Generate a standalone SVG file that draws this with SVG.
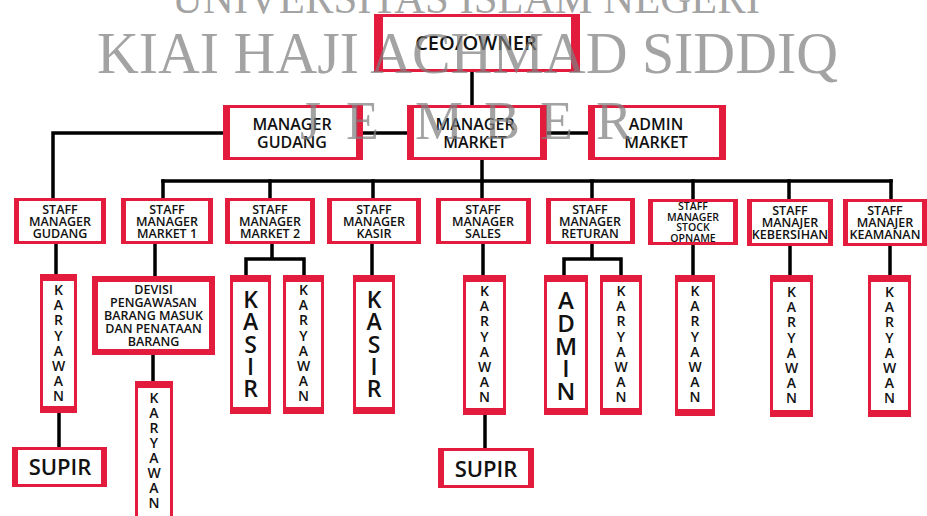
<svg xmlns="http://www.w3.org/2000/svg" width="927" height="516" viewBox="0 0 927 516">
<defs>
<style>
.box{fill:#fff;stroke:#e31b3d;stroke-width:3}
.box6{fill:#fff;stroke:#e31b3d;stroke-width:6}
.bar{fill:#e31b3d}
.ln{fill:none;stroke:#000;stroke-width:3.5;stroke-linecap:square}
.t{font-family:"Open Sans","Liberation Sans",sans-serif;font-weight:600;fill:#111;text-anchor:middle}
.s{font-size:12.5px}
.m{font-size:16px}
.k{font-size:14px}
.big{font-size:23px}
.wm{font-family:"Liberation Serif","Times New Roman",serif;fill:#7f7f7f;fill-opacity:.72}
</style>
</defs>
<rect width="927" height="516" fill="#fff"/>
<g id="connectors" class="ln">
<path d="M472,72 V105"/>
<path d="M363,133 H407"/>
<path d="M547,133 H588"/>
<path d="M223,133 H53 V198"/>
<path d="M482,160 V181"/>
<path d="M163,181 H891"/>
<path d="M163,181 V198 M270,181 V198 M373,181 V198 M482,181 V198 M592,181 V198 M693,181 V199 M789,181 V199 M891,181 V199"/>
<path d="M56,244 V274"/>
<path d="M155,243 V276"/>
<path d="M272,244 V259 M246,259 H304 M246,259 V275 M304,259 V275"/>
<path d="M372,244 V275"/>
<path d="M483,244 V275"/>
<path d="M592,244 V259 M564,259 H621 M564,259 V275 M621,259 V275"/>
<path d="M693,245 V275"/>
<path d="M790,246 V275"/>
<path d="M890,246 V275"/>
<path d="M59,413 V447"/>
<path d="M153,355 V381"/>
<path d="M485,415 V448"/>
</g>

<g id="ceo"><rect class="box" x="375.5" y="15.5" width="203" height="55"/><rect class="bar" x="374" y="14" width="9" height="58"/><rect class="bar" x="571" y="14" width="9" height="58"/>
<text class="t" x="476" y="50" font-size="20">CEO/OWNER</text></g>

<g id="manager-gudang"><rect class="box" x="224.5" y="106.5" width="137" height="52"/><rect class="bar" x="223" y="105" width="7" height="55"/><rect class="bar" x="356" y="105" width="7" height="55"/>
<text class="t m" x="292" y="130">MANAGER</text><text class="t m" x="292" y="148">GUDANG</text></g>

<g id="manager-market"><rect class="box" x="408.5" y="106.5" width="137" height="52"/><rect class="bar" x="407" y="105" width="7" height="55"/><rect class="bar" x="540" y="105" width="7" height="55"/>
<text class="t m" x="475" y="130">MANAGER</text><text class="t m" x="475" y="148">MARKET</text></g>

<g id="admin-market"><rect class="box" x="589.5" y="106.5" width="135" height="52"/><rect class="bar" x="588" y="105" width="7" height="55"/><rect class="bar" x="719" y="105" width="7" height="55"/>
<text class="t m" x="656" y="130">ADMIN</text><text class="t m" x="656" y="148">MARKET</text></g>

<g id="staff-gudang"><rect class="box" x="15.5" y="199.5" width="89" height="43"/><rect class="bar" x="14" y="198" width="5" height="46"/><rect class="bar" x="101" y="198" width="5" height="46"/>
<text class="t s" x="60" y="214">STAFF</text><text class="t s" x="60" y="226">MANAGER</text><text class="t s" x="60" y="238">GUDANG</text></g>

<g id="staff-market1"><rect class="box" x="122.5" y="199.5" width="89" height="43"/><rect class="bar" x="121" y="198" width="5" height="46"/><rect class="bar" x="208" y="198" width="5" height="46"/>
<text class="t s" x="167" y="214">STAFF</text><text class="t s" x="167" y="226">MANAGER</text><text class="t s" x="167" y="238">MARKET 1</text></g>

<g id="staff-market2"><rect class="box" x="226.5" y="199.5" width="87" height="43"/><rect class="bar" x="225" y="198" width="5" height="46"/><rect class="bar" x="310" y="198" width="5" height="46"/>
<text class="t s" x="270" y="214">STAFF</text><text class="t s" x="270" y="226">MANAGER</text><text class="t s" x="270" y="238">MARKET 2</text></g>

<g id="staff-kasir"><rect class="box" x="328.5" y="199.5" width="91" height="43"/><rect class="bar" x="327" y="198" width="5" height="46"/><rect class="bar" x="416" y="198" width="5" height="46"/>
<text class="t s" x="374" y="214">STAFF</text><text class="t s" x="374" y="226">MANAGER</text><text class="t s" x="374" y="238">KASIR</text></g>

<g id="staff-sales"><rect class="box" x="437.5" y="199.5" width="92" height="43"/><rect class="bar" x="436" y="198" width="5" height="46"/><rect class="bar" x="526" y="198" width="5" height="46"/>
<text class="t s" x="483" y="214">STAFF</text><text class="t s" x="483" y="226">MANAGER</text><text class="t s" x="483" y="238">SALES</text></g>

<g id="staff-returan"><rect class="box" x="547.5" y="199.5" width="86" height="43"/><rect class="bar" x="546" y="198" width="5" height="46"/><rect class="bar" x="630" y="198" width="5" height="46"/>
<text class="t s" x="590" y="214">STAFF</text><text class="t s" x="590" y="226">MANAGER</text><text class="t s" x="590" y="238">RETURAN</text></g>

<g id="staff-stock"><rect class="box" x="649.5" y="200.5" width="87" height="43"/><rect class="bar" x="648" y="199" width="5" height="46"/><rect class="bar" x="733" y="199" width="5" height="46"/>
<text class="t" font-size="10.5" x="693" y="210">STAFF</text><text class="t" font-size="10.5" x="693" y="221">MANAGER</text><text class="t" font-size="10.5" x="693" y="231">STOCK</text><text class="t" font-size="10.5" x="693" y="242">OPNAME</text></g>

<g id="staff-kebersihan"><rect class="box" x="748.5" y="200.5" width="83" height="44"/><rect class="bar" x="747" y="199" width="5" height="47"/><rect class="bar" x="828" y="199" width="5" height="47"/>
<text class="t s" x="790" y="215">STAFF</text><text class="t s" x="790" y="227">MANAJER</text><text class="t s" x="790" y="239">KEBERSIHAN</text></g>

<g id="staff-keamanan"><rect class="box" x="844.5" y="200.5" width="81" height="44"/><rect class="bar" x="843" y="199" width="5" height="47"/><rect class="bar" x="922" y="199" width="5" height="47"/>
<text class="t s" x="885" y="215">STAFF</text><text class="t s" x="885" y="227">MANAJER</text><text class="t s" x="885" y="239">KEAMANAN</text></g>

<g id="karyawan-gudang"><rect class="box" x="41.5" y="275.5" width="34" height="136"/><rect class="bar" x="40" y="274" width="37" height="7"/><rect class="bar" x="40" y="406" width="37" height="7"/>
<text class="t k"><tspan x="58.5" y="295">K</tspan><tspan x="58.5" y="310.2">A</tspan><tspan x="58.5" y="325.4">R</tspan><tspan x="58.5" y="340.6">Y</tspan><tspan x="58.5" y="355.8">A</tspan><tspan x="58.5" y="371">W</tspan><tspan x="58.5" y="386.2">A</tspan><tspan x="58.5" y="401.4">N</tspan></text></g>

<g id="supir-gudang"><rect class="box" x="13.5" y="448.5" width="92" height="37"/><rect class="bar" x="12" y="447" width="6" height="40"/><rect class="bar" x="101" y="447" width="6" height="40"/>
<text class="t" font-size="22" x="60" y="475">SUPIR</text></g>

<g id="devisi"><rect class="box6" x="95" y="279" width="117" height="73"/>
<text class="t" font-size="12.5"><tspan x="153.5" y="294">DEVISI</tspan><tspan x="153.5" y="307">PENGAWASAN</tspan><tspan x="153.5" y="320">BARANG MASUK</tspan><tspan x="153.5" y="333">DAN PENATAAN</tspan><tspan x="153.5" y="346">BARANG</tspan></text></g>

<g id="karyawan-devisi"><rect class="box" x="136.5" y="382.5" width="35" height="140"/><rect class="bar" x="135" y="381" width="38" height="7"/>
<text class="t k"><tspan x="154" y="403">K</tspan><tspan x="154" y="418">A</tspan><tspan x="154" y="433">R</tspan><tspan x="154" y="448">Y</tspan><tspan x="154" y="463">A</tspan><tspan x="154" y="478">W</tspan><tspan x="154" y="493">A</tspan><tspan x="154" y="508">N</tspan></text></g>

<g id="kasir-market2"><rect class="box" x="231.5" y="276.5" width="38" height="136"/><rect class="bar" x="230" y="275" width="41" height="7"/><rect class="bar" x="230" y="407" width="41" height="7"/>
<text class="t big"><tspan x="250.5" y="308">K</tspan><tspan x="250.5" y="330.2">A</tspan><tspan x="250.5" y="352.5">S</tspan><tspan x="250.5" y="374.7">I</tspan><tspan x="250.5" y="397">R</tspan></text></g>

<g id="karyawan-market2"><rect class="box" x="284.5" y="276.5" width="38" height="136"/><rect class="bar" x="283" y="275" width="41" height="7"/><rect class="bar" x="283" y="407" width="41" height="7"/>
<text class="t k"><tspan x="303.5" y="295">K</tspan><tspan x="303.5" y="310.2">A</tspan><tspan x="303.5" y="325.4">R</tspan><tspan x="303.5" y="340.6">Y</tspan><tspan x="303.5" y="355.8">A</tspan><tspan x="303.5" y="371">W</tspan><tspan x="303.5" y="386.2">A</tspan><tspan x="303.5" y="401.4">N</tspan></text></g>

<g id="kasir"><rect class="box" x="354.5" y="276.5" width="39" height="136"/><rect class="bar" x="353" y="275" width="42" height="7"/><rect class="bar" x="353" y="407" width="42" height="7"/>
<text class="t big"><tspan x="374" y="308">K</tspan><tspan x="374" y="330.2">A</tspan><tspan x="374" y="352.5">S</tspan><tspan x="374" y="374.7">I</tspan><tspan x="374" y="397">R</tspan></text></g>

<g id="karyawan-sales"><rect class="box" x="464.5" y="276.5" width="40" height="137"/><rect class="bar" x="463" y="275" width="43" height="7"/><rect class="bar" x="463" y="408" width="43" height="7"/>
<text class="t k"><tspan x="484.5" y="296">K</tspan><tspan x="484.5" y="311.2">A</tspan><tspan x="484.5" y="326.4">R</tspan><tspan x="484.5" y="341.6">Y</tspan><tspan x="484.5" y="356.8">A</tspan><tspan x="484.5" y="372">W</tspan><tspan x="484.5" y="387.2">A</tspan><tspan x="484.5" y="402.4">N</tspan></text></g>

<g id="supir-sales"><rect class="box" x="439.5" y="449.5" width="93" height="37"/><rect class="bar" x="438" y="448" width="6" height="40"/><rect class="bar" x="528" y="448" width="6" height="40"/>
<text class="t" font-size="22" x="486" y="477">SUPIR</text></g>

<g id="admin"><rect class="box" x="545.5" y="276.5" width="41" height="137"/><rect class="bar" x="544" y="275" width="44" height="7"/><rect class="bar" x="544" y="408" width="44" height="7"/>
<text class="t" font-size="24"><tspan x="566" y="309">A</tspan><tspan x="566" y="331.7">D</tspan><tspan x="566" y="354.5">M</tspan><tspan x="566" y="377.2">I</tspan><tspan x="566" y="400">N</tspan></text></g>

<g id="karyawan-returan"><rect class="box" x="601.5" y="276.5" width="39" height="137"/><rect class="bar" x="600" y="275" width="42" height="7"/><rect class="bar" x="600" y="408" width="42" height="7"/>
<text class="t k"><tspan x="621" y="296">K</tspan><tspan x="621" y="311.2">A</tspan><tspan x="621" y="326.4">R</tspan><tspan x="621" y="341.6">Y</tspan><tspan x="621" y="356.8">A</tspan><tspan x="621" y="372">W</tspan><tspan x="621" y="387.2">A</tspan><tspan x="621" y="402.4">N</tspan></text></g>

<g id="karyawan-stock"><rect class="box" x="676.5" y="276.5" width="37" height="138"/><rect class="bar" x="675" y="275" width="40" height="7"/><rect class="bar" x="675" y="409" width="40" height="7"/>
<text class="t k"><tspan x="695" y="296">K</tspan><tspan x="695" y="311.2">A</tspan><tspan x="695" y="326.4">R</tspan><tspan x="695" y="341.6">Y</tspan><tspan x="695" y="356.8">A</tspan><tspan x="695" y="372">W</tspan><tspan x="695" y="387.2">A</tspan><tspan x="695" y="402.4">N</tspan></text></g>

<g id="karyawan-kebersihan"><rect class="box" x="771.5" y="276.5" width="40" height="139"/><rect class="bar" x="770" y="275" width="43" height="7"/><rect class="bar" x="770" y="410" width="43" height="7"/>
<text class="t k"><tspan x="791.5" y="297">K</tspan><tspan x="791.5" y="312.2">A</tspan><tspan x="791.5" y="327.4">R</tspan><tspan x="791.5" y="342.6">Y</tspan><tspan x="791.5" y="357.8">A</tspan><tspan x="791.5" y="373">W</tspan><tspan x="791.5" y="388.2">A</tspan><tspan x="791.5" y="403.4">N</tspan></text></g>

<g id="karyawan-keamanan"><rect class="box" x="869.5" y="276.5" width="40" height="139"/><rect class="bar" x="868" y="275" width="43" height="7"/><rect class="bar" x="868" y="410" width="43" height="7"/>
<text class="t k"><tspan x="889.5" y="297">K</tspan><tspan x="889.5" y="312.2">A</tspan><tspan x="889.5" y="327.4">R</tspan><tspan x="889.5" y="342.6">Y</tspan><tspan x="889.5" y="357.8">A</tspan><tspan x="889.5" y="373">W</tspan><tspan x="889.5" y="388.2">A</tspan><tspan x="889.5" y="403.4">N</tspan></text></g>

<g id="watermark" class="wm">
<text x="172" y="13" font-size="44" textLength="588" lengthAdjust="spacingAndGlyphs">UNIVERSITAS ISLAM NEGERI</text>
<text x="97" y="73" font-size="60" textLength="741" lengthAdjust="spacingAndGlyphs">KIAI HAJI ACHMAD SIDDIQ</text>
<text y="139" font-size="54"><tspan x="300">J</tspan> <tspan x="346">E</tspan> <tspan x="415">M</tspan> <tspan x="484">B</tspan> <tspan x="540">E</tspan> <tspan x="596">R</tspan></text>
</g>
</svg>
